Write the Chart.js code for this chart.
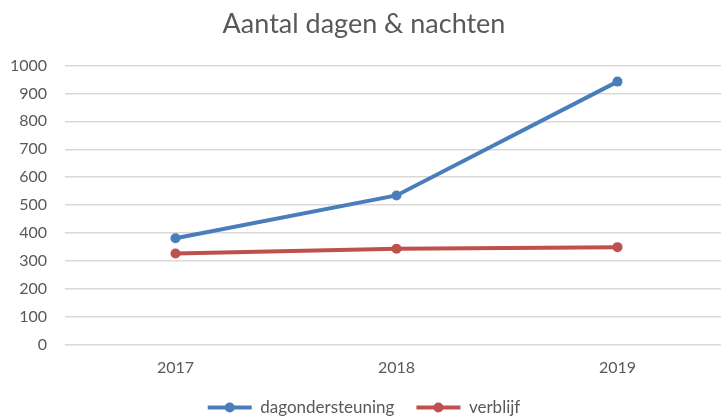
<!DOCTYPE html>
<html>
<head>
<meta charset="utf-8">
<script src="https://cdn.jsdelivr.net/npm/chart.js@4"></script>
<style>
  html, body { margin: 0; padding: 0; background: #fff; overflow: hidden; }
  /* the original chart is a bit wider than the visible crop */
  #wrap { width: 721px; height: 419px; overflow: hidden; }
</style>
</head>
<body>
<div id="wrap"><canvas id="myChart" width="746" height="419"></canvas></div>
<script>
const years = ['2017', '2018', '2019'];
const dagondersteuning = [382, 535, 942];
const verblijf = [327, 344, 350];
const yTicks = [0, 100, 200, 300, 400, 500, 600, 700, 800, 900, 1000];

const BLUE = '#4A7EBB';
const RED = '#C0504D';
const TEXT = '#595959';

// puts the round dot on top of the line-shaped legend box
const legendDots = {
    id: 'legendDots',
    afterDraw(chart) {
        const legend = chart.legend;
        if (!legend || !legend.legendHitBoxes) return;
        const ctx = chart.ctx;
        legend.legendHitBoxes.forEach((box, i) => {
            const color = chart.data.datasets[i].borderColor;
            ctx.save();
            ctx.fillStyle = color;
            ctx.beginPath();
            ctx.arc(box.left + legend.options.labels.boxWidth / 2, box.top + box.height / 2, 5, 0, Math.PI * 2);
            ctx.fill();
            ctx.restore();
        });
    }
};

Chart.defaults.font.family = 'Lato, "Open Sans", sans-serif';
Chart.defaults.color = TEXT;

new Chart(document.getElementById('myChart').getContext('2d'), {
    type: 'line',
    data: {
        labels: years,
        datasets: [
            {
                label: 'dagondersteuning',
                data: dagondersteuning,
                borderColor: BLUE,
                backgroundColor: BLUE,
                borderWidth: 4,
                pointRadius: 5,
                pointBorderWidth: 0,
                tension: 0
            },
            {
                label: 'verblijf',
                data: verblijf,
                borderColor: RED,
                backgroundColor: RED,
                borderWidth: 4,
                pointRadius: 5,
                pointBorderWidth: 0,
                tension: 0
            }
        ]
    },
    plugins: [legendDots],
    options: {
        responsive: false,
        animation: false,
        layout: { padding: { left: 0, right: 18, top: 0, bottom: 0 } },
        plugins: {
            title: {
                display: true,
                text: 'Aantal dagen & nachten',
                color: TEXT,
                font: { size: 27, weight: 'normal' },
                padding: { top: 8, bottom: 25 }
            },
            legend: {
                position: 'bottom',
                maxHeight: 42,
                labels: {
                    boxWidth: 44,
                    boxHeight: 4,
                    padding: 22,
                    color: TEXT,
                    font: { size: 17 },
                    generateLabels: (chart) => chart.data.datasets.map((ds, i) => ({
                        text: ds.label,
                        fillStyle: ds.borderColor,
                        strokeStyle: ds.borderColor,
                        lineWidth: 0,
                        fontColor: TEXT,
                        datasetIndex: i
                    }))
                }
            },
            tooltip: { enabled: false }
        },
        scales: {
            x: {
                offset: true,
                grid: { display: false, tickLength: 0 },
                border: { display: false },
                ticks: { color: TEXT, font: { size: 16 }, padding: 13 },
                afterFit: (axis) => { axis.height = 32; }
            },
            y: {
                min: 0,
                max: 1000,
                afterBuildTicks: (axis) => { axis.ticks = yTicks.map(v => ({ value: v })); },
                grid: { color: '#D9D9D9', lineWidth: 1.5, drawTicks: false },
                border: { display: false },
                ticks: { color: TEXT, font: { size: 16 }, padding: 18, callback: (v) => String(v) },
                afterFit: (axis) => { axis.width = 65; }
            }
        }
    }
});
</script>
</body>
</html>
